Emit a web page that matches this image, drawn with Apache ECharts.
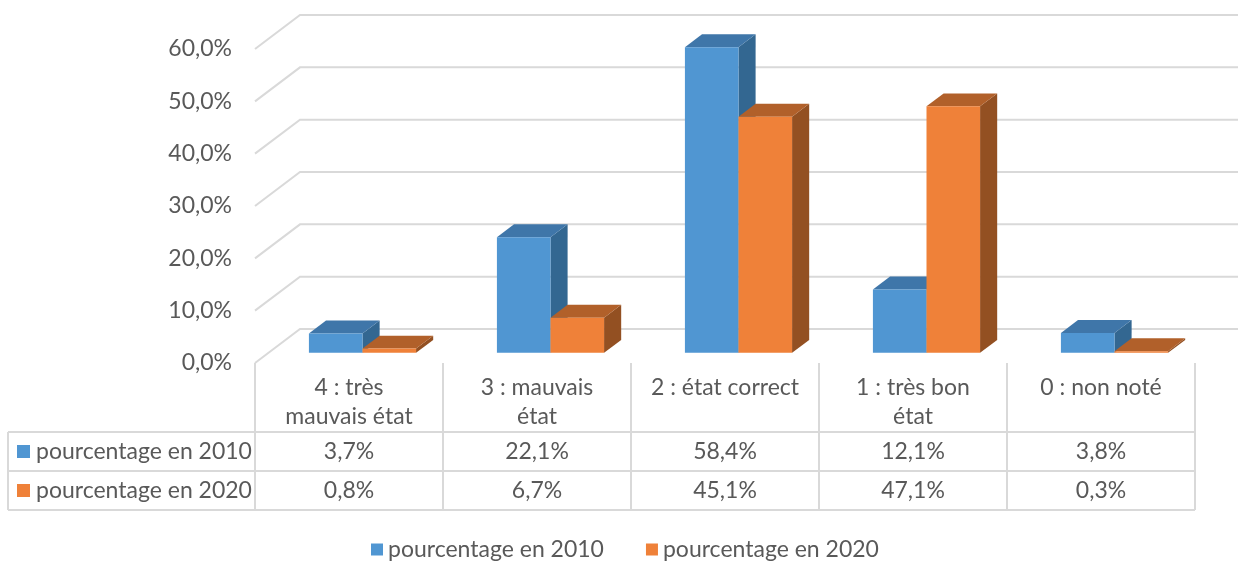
<!DOCTYPE html>
<html><head><meta charset="utf-8">
<script src="https://cdn.jsdelivr.net/npm/echarts@6/dist/echarts.min.js"></script>
<style>html,body{margin:0;padding:0;background:#fff}#c{width:1238px;height:562px}</style>
</head><body><div id="c"></div>
<script>
const categories = ['4 : très\nmauvais état', '3 : mauvais\nétat', '2 : état correct', '1 : très bon\nétat', '0 : non noté'];
const seriesNames = ['pourcentage en 2010', 'pourcentage en 2020'];
const values2010 = [3.7, 22.1, 58.4, 12.1, 3.8];
const values2020 = [0.8, 6.7, 45.1, 47.1, 0.3];
const yTicks = [0, 10, 20, 30, 40, 50, 60];

const FONT = 'Lato';
const FS = 23;
const TXT = '#595959';
const LINEC = '#d9d9d9';
const faces = [
  {front: '#5096d2', top: '#3f76a9', side: '#336791'},
  {front: '#ef8139', top: '#b1602a', side: '#935022'}
];
const DEPTH = [45, -34];
const T0 = 0.3, TD = 0.38;
const TABLE_LEFT = 8;
const ROWS = [69, 108, 147];
const fmt = v => v.toFixed(1).replace('.', ',') + '%';
const allValues = [values2010, values2020];

function barRender(si) {
  return function (params, api) {
    const i = api.value(0), v = api.value(1);
    const base = api.coord([i, 0]), top = api.coord([i, v]);
    const band = api.size([1, 0])[0];
    const bw = band * 0.285;
    const x0 = base[0] - bw + si * bw + DEPTH[0] * T0;
    const x1 = x0 + bw;
    const yb = base[1] + DEPTH[1] * T0;
    const yt = top[1] + DEPTH[1] * T0;
    const dx = DEPTH[0] * TD, dy = DEPTH[1] * TD;
    const f = faces[si];
    return {type: 'group', children: [
      {type: 'polygon', shape: {points: [[x1, yt], [x1 + dx, yt + dy], [x1 + dx, yb + dy], [x1, yb]]}, style: {fill: f.side}},
      {type: 'polygon', shape: {points: [[x0, yt], [x1, yt], [x1 + dx, yt + dy], [x0 + dx, yt + dy]]}, style: {fill: f.top}},
      {type: 'rect', shape: {x: x0, y: yt, width: bw, height: yb - yt}, style: {fill: f.front}}
    ]};
  };
}

function gridRender(params, api) {
  const cs = params.coordSys;
  const v = api.value(1);
  const y = api.coord([0, v])[1];
  const xL = cs.x, xR = cs.x + cs.width;
  return {type: 'polyline', shape: {points: [[xL, y], [xL + DEPTH[0], y + DEPTH[1]], [xR + DEPTH[0], y + DEPTH[1]]]},
    style: {stroke: LINEC, lineWidth: 2, fill: null}};
}

function tableRender(params, api) {
  const i = api.value(0);
  const p = api.coord([i, 0]);
  const band = api.size([1, 0])[0];
  const cx = p[0], y0 = p[1];
  const xL = cx - band / 2, xR = cx + band / 2;
  const ch = [];
  const line = (x1, y1, x2, y2) => ch.push({type: 'line', shape: {x1, y1, x2, y2}, style: {stroke: LINEC, lineWidth: 2}});
  line(xL, y0, xL, y0 + ROWS[2]);
  if (i === categories.length - 1) line(xR, y0, xR, y0 + ROWS[2]);
  ROWS.forEach(r => line(xL, y0 + r, xR, y0 + r));
  allValues.forEach((vals, k) => {
    ch.push({type: 'text', style: {text: fmt(vals[i]), x: cx, y: y0 + (ROWS[k] + ROWS[k + 1]) / 2,
      align: 'center', verticalAlign: 'middle', fill: TXT, font: FS + 'px ' + FONT}});
  });
  if (i === 0) {
    ROWS.forEach(r => line(TABLE_LEFT, y0 + r, xL, y0 + r));
    line(TABLE_LEFT, y0 + ROWS[0], TABLE_LEFT, y0 + ROWS[2]);
    seriesNames.forEach((n, k) => {
      const yc = y0 + (ROWS[k] + ROWS[k + 1]) / 2;
      ch.push({type: 'rect', shape: {x: TABLE_LEFT + 9, y: yc - 6.5, width: 13, height: 13}, style: {fill: faces[k].front}});
      ch.push({type: 'text', style: {text: n, x: TABLE_LEFT + 28, y: yc, align: 'left', verticalAlign: 'middle', fill: TXT, font: FS + 'px ' + FONT}});
    });
  }
  return {type: 'group', children: ch};
}

const chart = echarts.init(document.getElementById('c'), null, {renderer: 'canvas'});
chart.setOption({
  animation: false,
  backgroundColor: '#fff',
  textStyle: {fontFamily: FONT},
  grid: {left: 255, right: 43, top: 49, bottom: 199},
  legend: {
    data: seriesNames, left: 371, top: 538, padding: 0, icon: 'rect', itemWidth: 12, itemHeight: 12, itemGap: 42,
    textStyle: {color: TXT, fontSize: FS, fontFamily: FONT}
  },
  xAxis: {
    type: 'category', data: categories,
    axisLine: {show: false}, axisTick: {show: false}, splitLine: {show: false},
    axisLabel: {interval: 0, color: TXT, fontSize: FS, fontFamily: FONT, lineHeight: 29, margin: 10}
  },
  yAxis: {
    type: 'value', min: 0, max: 60, interval: 10,
    axisLine: {show: false}, axisTick: {show: false}, splitLine: {show: false},
    axisLabel: {formatter: fmt, color: TXT, fontSize: FS, fontFamily: FONT, margin: 23}
  },
  series: [
    {type: 'custom', name: '_grid', renderItem: gridRender, data: yTicks.map(v => [0, v]), silent: true, z: 1},
    {type: 'custom', name: seriesNames[0], renderItem: barRender(0), data: values2010.map((v, i) => [i, v]), itemStyle: {color: faces[0].front}, z: 2},
    {type: 'custom', name: seriesNames[1], renderItem: barRender(1), data: values2020.map((v, i) => [i, v]), itemStyle: {color: faces[1].front}, z: 3},
    {type: 'custom', name: '_table', renderItem: tableRender, data: categories.map((c, i) => [i, 0]), silent: true, z: 1}
  ]
});
</script>
</body></html>
